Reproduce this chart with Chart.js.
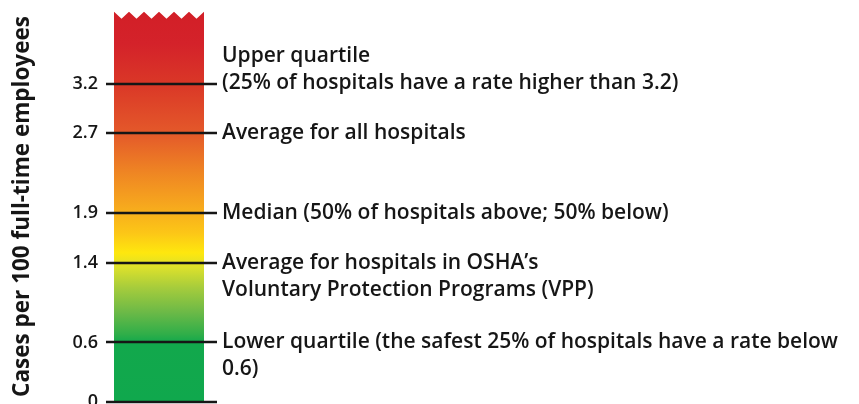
<!DOCTYPE html>
<html>
<head>
<meta charset="utf-8">
<title>Injury rates in hospitals</title>
<script src="https://cdn.jsdelivr.net/npm/chart.js@4"></script>
<style>
  html, body { margin: 0; padding: 0; background: #fff; overflow: hidden; }
  #wrap { position: relative; width: 859px; height: 413px; }
</style>
</head>
<body>
<div id="wrap"><canvas id="rateChart"></canvas></div>
<script>
// Data
const categories = [''];
const barTop = [3.92];                       // the column is cut off (zigzag) above this
const tickValues = [0, 0.6, 1.4, 1.9, 2.7, 3.2];
const noteValues = [3.2, 2.7, 1.9, 1.4, 0.6];
const noteLines = [
    ['Upper quartile', '(25% of hospitals have a rate higher than 3.2)'],
    ['Average for all hospitals'],
    ['Median (50% of hospitals above; 50% below)'],
    ['Average for hospitals in OSHA\u2019s', 'Voluntary Protection Programs (VPP)'],
    ['Lower quartile (the safest 25% of hospitals have a rate below', '0.6)']
];
const noteAnchor = [1, 0, 0, 0, 0];          // which line of the note sits on the marker
const axisTitle = 'Cases per 100 full-time employees';

// colour ramp of the column, by value
const rampValues = [0, 0.6, 0.68, 0.9, 1.15, 1.35, 1.5, 1.7, 2.0, 2.3, 2.7, 3.2, 3.6, 3.93];
const rampColors = ['#10a84d', '#12a84c', '#2fae49', '#6bb947', '#a6cc3c', '#dbe02c', '#fee70e',
                    '#fcc617', '#f6a51e', '#ef8623', '#e4592a', '#da3727', '#d4222a', '#d21f27'];

const ink = '#161616';

function rampFill(context) {
    const chart = context.chart;
    const y = chart.scales.y;
    if (!chart.chartArea || !y) return rampColors[0];
    const g = chart.ctx.createLinearGradient(0, y.getPixelForValue(0), 0, y.getPixelForValue(y.max));
    rampValues.forEach((v, i) => g.addColorStop(Math.min(v / y.max, 1), rampColors[i]));
    return g;
}

// zigzag top, marker lines and the notes on the right
const markerPlugin = {
    id: 'markers',
    afterDatasetsDraw(chart) {
        const ctx = chart.ctx;
        const y = chart.scales.y;
        const bar = chart.getDatasetMeta(0).data[0];
        const left = bar.x - bar.width / 2;
        const right = bar.x + bar.width / 2;

        ctx.save();
        ctx.fillStyle = '#fff';
        const teeth = 6, step = bar.width / teeth, depth = 7;
        ctx.beginPath();
        ctx.moveTo(left - 1, bar.y - 1);
        for (let i = 0; i < teeth; i++) {
            ctx.lineTo(left + step * (i + 0.5), bar.y + depth);
            ctx.lineTo(left + step * (i + 1), bar.y);
        }
        ctx.lineTo(right + 1, bar.y - 1);
        ctx.closePath();
        ctx.fill();

        ctx.strokeStyle = ink;
        ctx.lineWidth = 2.5;
        tickValues.forEach(v => {
            const py = Math.round(y.getPixelForValue(v));
            ctx.beginPath();
            ctx.moveTo(left - 8, py);
            ctx.lineTo(right + 13, py);
            ctx.stroke();
        });

        ctx.fillStyle = ink;
        ctx.font = '600 21px "Open Sans"';
        ctx.textBaseline = 'middle';
        const gap = 27;
        noteValues.forEach((v, i) => {
            const py = y.getPixelForValue(v);
            noteLines[i].forEach((t, j) => {
                ctx.fillText(t, right + 18, py + (j - noteAnchor[i]) * gap);
            });
        });
        ctx.restore();
    }
};

new Chart(document.getElementById('rateChart'), {
    type: 'bar',
    data: {
        labels: categories,
        datasets: [{
            data: barTop,
            backgroundColor: rampFill,
            borderWidth: 0,
            barPercentage: 1,
            categoryPercentage: 1
        }]
    },
    options: {
        responsive: true,
        maintainAspectRatio: false,
        animation: false,
        layout: { padding: { left: 0, right: 655, top: 0, bottom: 0 } },
        plugins: {
            legend: { display: false },
            tooltip: { enabled: false }
        },
        scales: {
            x: { display: false },
            y: {
                min: 0,
                max: 3.93,
                afterBuildTicks: scale => { scale.ticks = tickValues.map(v => ({ value: v })); },
                afterFit: scale => { scale.width = 114; },
                grid: { display: false, drawTicks: true, tickLength: 16 },
                border: { display: false },
                ticks: {
                    padding: 0,
                    color: ink,
                    font: { family: 'Open Sans', weight: '600', size: 18 },
                    callback: v => (v === 0 ? '0' : v.toFixed(1))
                },
                title: {
                    display: true,
                    text: axisTitle,
                    color: ink,
                    font: { family: 'Open Sans', weight: '700', size: 22.5 },
                    padding: { top: 9, bottom: 0 }
                }
            }
        }
    },
    plugins: [markerPlugin]
});
</script>
</body>
</html>
